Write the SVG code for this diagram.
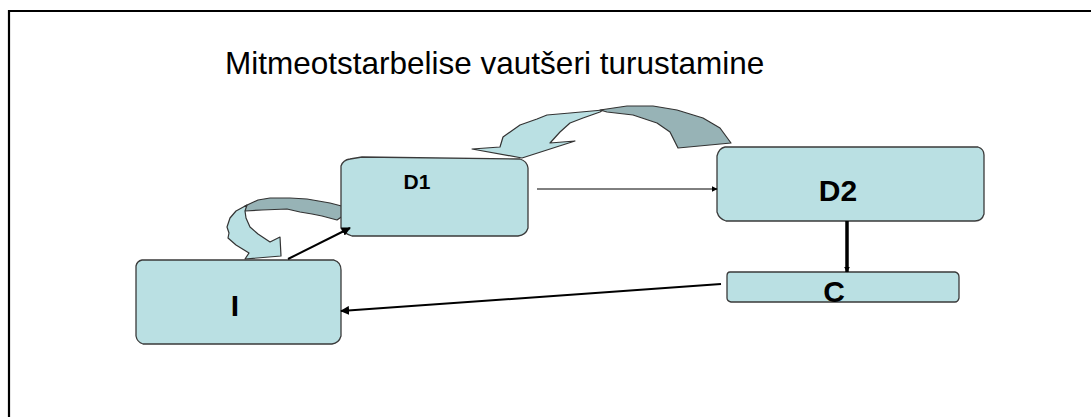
<svg xmlns="http://www.w3.org/2000/svg" width="1091" height="417" viewBox="0 0 1091 417">
<defs>
<style>
.box{fill:#BAE0E3;stroke:#3a3a3a;stroke-width:1.3;stroke-linejoin:round}
.lbl{font-family:"Liberation Sans",Arial,sans-serif;font-weight:bold;fill:#000;text-anchor:middle}
.conn{stroke:#000;fill:none}
.light{fill:#BAE0E3;stroke:#333;stroke-width:1.2;stroke-linejoin:round}
.dark{fill:#97B3B6;stroke:#333;stroke-width:1.2;stroke-linejoin:round}
</style>
<marker id="ah" viewBox="0 0 10 10" refX="9" refY="5" markerWidth="6" markerHeight="6" markerUnits="userSpaceOnUse" orient="auto">
<path d="M0,0 L10,5 L0,10 Z" fill="#000"/>
</marker>
<marker id="ah2" viewBox="0 0 10 10" refX="9" refY="5" markerWidth="9" markerHeight="9" markerUnits="userSpaceOnUse" orient="auto">
<path d="M0,0 L10,5 L0,10 Z" fill="#000"/>
</marker>
</defs>
<rect width="1091" height="417" fill="#fff"/>
<path d="M9,417 L9,11 L1091,11" fill="none" stroke="#000" stroke-width="2.2"/>
<text x="225" y="74" font-family="'Liberation Sans',Arial,sans-serif" font-size="31.5" fill="#000">Mitmeotstarbelise vautšeri turustamine</text>

<g id="ribbon-top">
<path class="dark" d="M600,110 L627,106 L653,106 L677,110 L703,118 L720,128 L731,143 L678,148 L670,132 L657,123 L633,115 L607,112 Z"/>
<path class="light" d="M603,110 L570,113 L547,115 L537,119 L520,125 L503,137 L500,147 L472,149 L522,158 L575,141 L550,143 L560,132 L570,123 L583,118 L600,112 Z"/>
</g>
<g id="ribbon-left">
<path class="dark" d="M245,206 L258,200 L270,198 L290,198 L307,199 L330,203 L353,209 L337,220 L322,216 L312,214 L300,212 L287,209 L262,210 L245,211 Z"/>
<path class="light" d="M247,205 L236,211 L230,218 L227,227 L229,233 L228,238 L236,245 L249,253 L245,259 L281,256 L280,237 L270,242 L258,234 L250,227 L246,218 L245,211 Z"/>
</g>

<g id="node-D1">
<path class="box" d="M350,159 L362,157 L520,159 Q527,161 528,168 L528,228 Q526,235 518,236 L352,236 Q343,233 341,228 L341,166 Q343,160 350,159 Z"/>
<text class="lbl" x="417" y="189" font-size="21">D1</text>
</g>
<g id="node-D2">
<path class="box" d="M725,147 L978,147 Q984,149 984,155 L984,214 Q982,221 975,221 L726,221 Q719,219 717,212 L717,156 Q719,148 725,147 Z"/>
<text class="lbl" x="838" y="201" font-size="30">D2</text>
</g>
<g id="node-C">
<path class="box" d="M730,272 L955,272 Q959,273 959,277 L959,298 Q958,302 955,302 L731,302 Q727,301 727,298 L727,276 Q727,272 730,272 Z"/>
<text class="lbl" x="834" y="302" font-size="30">C</text>
</g>
<g id="node-I">
<path class="box" d="M142,260 L334,260 Q341,262 341,270 L341,336 Q339,343 332,344 L143,344 Q137,342 136,336 L136,266 Q137,261 142,260 Z"/>
<text class="lbl" x="235" y="316" font-size="30">I</text>
</g>

<g id="connectors">
<line class="conn" x1="537" y1="189" x2="717" y2="189" stroke-width="1" marker-end="url(#ah)"/>
<line class="conn" x1="847" y1="221" x2="847" y2="272" stroke-width="3.5" marker-end="url(#ah)"/>
<line class="conn" x1="721" y1="284" x2="341" y2="311" stroke-width="2" marker-end="url(#ah2)"/>
<line class="conn" x1="288" y1="259" x2="350" y2="228" stroke-width="2" marker-end="url(#ah2)"/>
</g>
</svg>
